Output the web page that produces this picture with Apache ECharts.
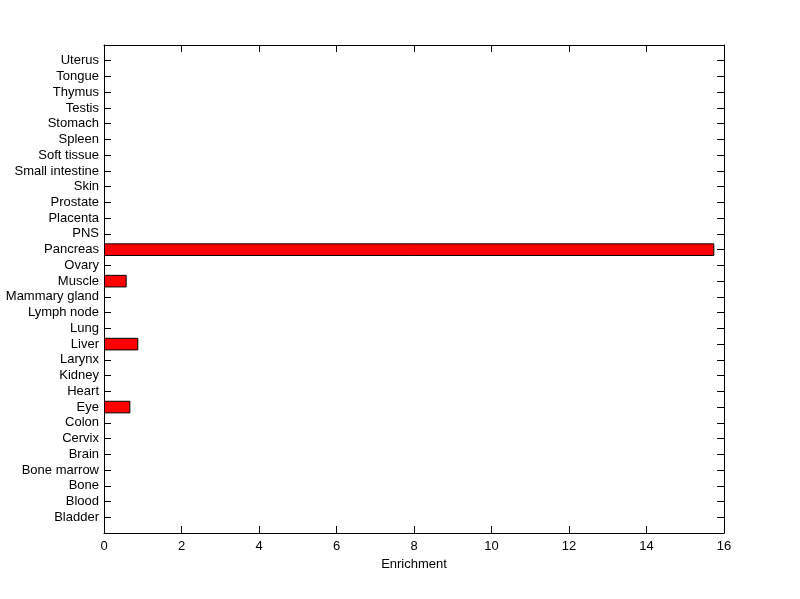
<!DOCTYPE html>
<html>
<head>
<meta charset="utf-8">
<script src="https://cdn.jsdelivr.net/npm/echarts@6/dist/echarts.min.js"></script>
<style>
  html, body { margin: 0; padding: 0; background: #ffffff; }
  #myChart { width: 800px; height: 599px; }
</style>
</head>
<body>
<div id="myChart"></div>
<script>
// tissues listed bottom to top, as drawn
var tissues = ["Bladder", "Blood", "Bone", "Bone marrow", "Brain", "Cervix", "Colon", "Eye",
  "Heart", "Kidney", "Larynx", "Liver", "Lung", "Lymph node", "Mammary gland", "Muscle",
  "Ovary", "Pancreas", "PNS", "Placenta", "Prostate", "Skin", "Small intestine",
  "Soft tissue", "Spleen", "Stomach", "Testis", "Thymus", "Tongue", "Uterus"];
var enrichment = [0, 0, 0, 0, 0, 0, 0, 0.68,
  0, 0, 0, 0.885, 0, 0, 0, 0.585,
  0, 15.75, 0, 0, 0, 0, 0,
  0, 0, 0, 0, 0, 0, 0];
var xTicks = { min: 0, max: 16, interval: 2 };

// pad one empty slot at each end so the rows sit like matlab's 0..31 limits
var cats = [""].concat(tissues, [""]);
var vals = [null].concat(enrichment.map(function (v) { return v > 0 ? v : null; }), [null]);

var myChart = echarts.init(document.getElementById("myChart"));
var font = "Liberation Sans, Arial, sans-serif";
var tick = { show: true, inside: true, length: 7, lineStyle: { color: "#000", width: 1 } };
var line = { show: true, onZero: false, lineStyle: { color: "#000", width: 1 } };

var option = {
  animation: false,
  backgroundColor: "#ffffff",
  grid: { left: 104, right: 76, top: 45, bottom: 66 },
  xAxis: [
    {
      type: "value",
      position: "bottom",
      min: xTicks.min,
      max: xTicks.max,
      interval: xTicks.interval,
      name: "Enrichment",
      nameLocation: "middle",
      nameGap: 22,
      nameTextStyle: { color: "#000", fontFamily: font, fontSize: 13 },
      axisLine: line,
      axisTick: tick,
      splitLine: { show: false },
      axisLabel: { color: "#000", fontFamily: font, fontSize: 13, margin: 7 },
    },
    {
      type: "value",
      position: "top",
      min: xTicks.min,
      max: xTicks.max,
      interval: xTicks.interval,
      axisLine: line,
      axisTick: tick,
      splitLine: { show: false },
      axisLabel: { show: false },
    },
  ],
  yAxis: [
    {
      type: "category",
      position: "left",
      data: cats,
      boundaryGap: false,
      axisLine: line,
      axisTick: Object.assign({ interval: 0 }, tick),
      axisLabel: { interval: 0, color: "#000", fontFamily: font, fontSize: 13, margin: 5 },
    },
    {
      type: "category",
      position: "right",
      data: cats,
      boundaryGap: false,
      axisLine: line,
      axisTick: Object.assign({ interval: 0 }, tick),
      axisLabel: { show: false },
    },
  ],
  series: [
    {
      type: "bar",
      xAxisIndex: 0,
      yAxisIndex: 0,
      barWidth: "80%",
      itemStyle: { color: "#ff0000", borderColor: "#000", borderWidth: 1 },
      data: vals,
    },
  ],
};

option && myChart.setOption(option);
</script>
</body>
</html>
